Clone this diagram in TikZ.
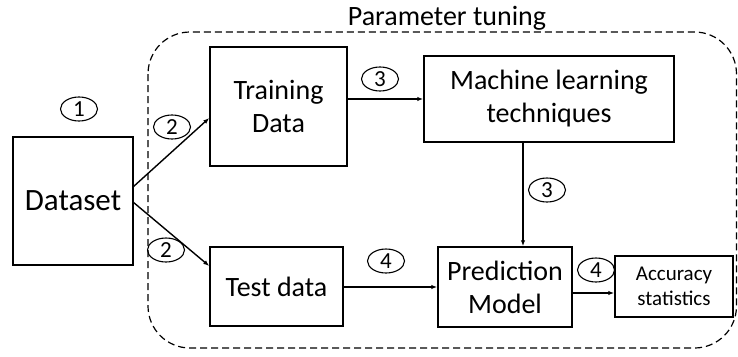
\documentclass[tikz,border=0pt]{standalone}
\usepackage{fontspec}
\setmainfont{Carlito}
\usetikzlibrary{arrows.meta,shapes.geometric}
\begin{document}
\begin{tikzpicture}[x=1pt,y=-1pt,
  box/.style={draw,line width=1.5pt,inner sep=0pt,align=center,font=\fontsize{28}{33}\selectfont},
  smallbox/.style={draw,line width=1.5pt,inner sep=0pt,align=center,font=\fontsize{21}{25}\selectfont},
  num/.style={draw,ellipse,line width=1.1pt,inner sep=0pt,minimum width=37pt,minimum height=24pt,font=\fontsize{23}{23}\selectfont},
  conn/.style={line width=1.4pt,-{Latex[length=6pt,width=4.5pt]}},
  group/.style={draw,line width=1.2pt,dash pattern=on 7pt off 4pt,rounded corners=42pt}]
\useasboundingbox (0,0) rectangle (738,356);
\draw[group] (148,32) rectangle (736.5,348);
\node[font=\fontsize{28}{28}\selectfont,anchor=base] (title) at (447,25) {Parameter tuning};
\node[box,minimum width=120pt,minimum height=128pt,font=\fontsize{31}{31}\selectfont] (dataset) at (73,201) {Dataset};
\node[box,minimum width=137pt,minimum height=119pt] (train) at (278.5,106.5) {Training\\Data};
\node[box,minimum width=133pt,minimum height=79pt] (test) at (276.5,286.5) {Test data};
\node[box,minimum width=250pt,minimum height=86pt] (ml) at (549,99) {Machine learning\\techniques};
\node[box,minimum width=134pt,minimum height=80pt] (pred) at (505,287) {Prediction\\Model};
\node[smallbox,minimum width=118pt,minimum height=61pt] (acc) at (674,286.5) {Accuracy\\statistics};
\node[num] (n1) at (79,109) {1};
\node[num] (n2a) at (172,127) {2};
\node[num] (n2b) at (166,250) {2};
\node[num] (n3a) at (380,79) {3};
\node[num] (n3b) at (547,190) {3};
\node[num] (n4a) at (386,261) {4};
\node[num] (n4b) at (596,270) {4};
\coordinate (ds1) at (133,187);
\coordinate (ds2) at (133,202);
\draw[conn] (ds1) -- (train.west |- 0,118);
\draw[conn] (ds2) -- (test.west |- 0,266);
\draw[conn] (train.east |- ml.west) -- (ml.west);
\draw[conn] (ml.south -| 523,0) -- (pred.north -| 523,0);
\draw[conn] (test.east |- pred.west) -- (pred.west);
\draw[conn] (pred.east |- 0,293) -- (acc.west |- 0,293);
\end{tikzpicture}
\end{document}
